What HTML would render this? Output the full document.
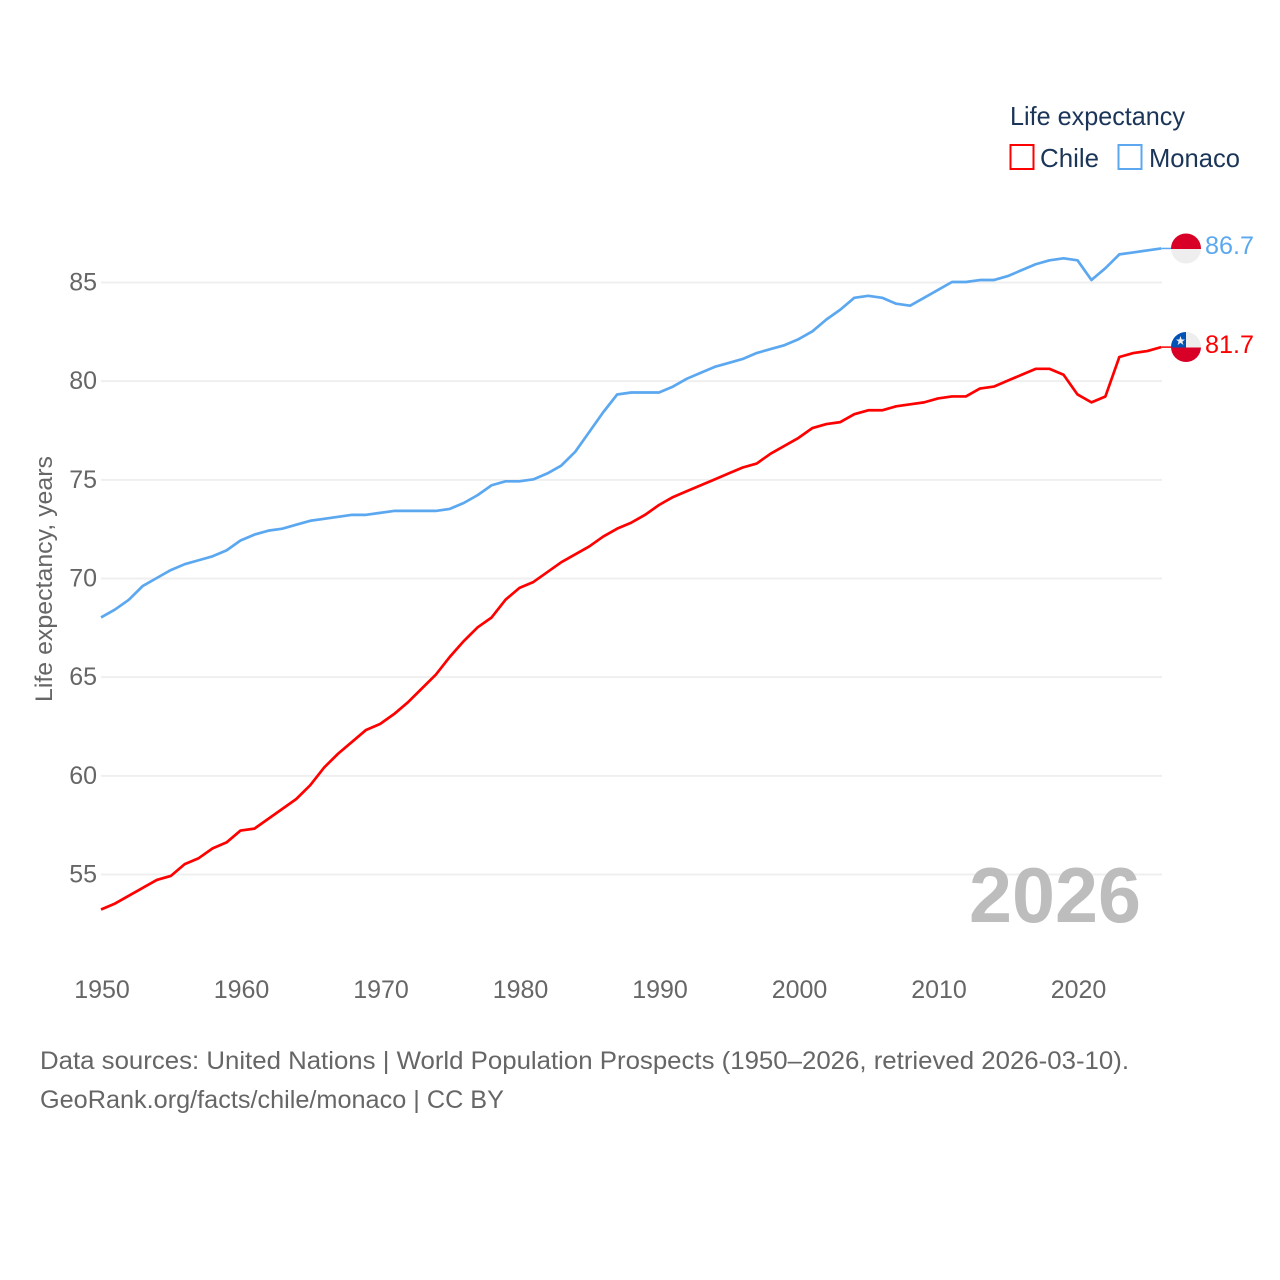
<!DOCTYPE html>
<html lang="en">
<head>
<meta charset="utf-8">
<title>Life expectancy: Chile vs Monaco</title>
<style>
html,body{margin:0;padding:0;background:#fff;width:1280px;height:1280px;overflow:hidden}
svg{display:block}
text{font-family:"Liberation Sans",sans-serif}
</style>
</head>
<body>
<svg id="chart" xmlns="http://www.w3.org/2000/svg" width="1280" height="1280" viewBox="0 0 1280 1280">
  <defs>
    <clipPath id="flag-clip-monaco"><circle cx="1186" cy="248.5" r="15"/></clipPath>
    <clipPath id="flag-clip-chile"><circle cx="1186" cy="347" r="15"/></clipPath>
  </defs>
  <g id="grid"></g>
  <g id="yticks"></g>
  <g id="xticks"></g>
  <text transform="translate(52,579) rotate(-90)" text-anchor="middle" font-size="24" fill="#666666" textLength="246" lengthAdjust="spacingAndGlyphs">Life expectancy, years</text>
  <text x="969" y="922" font-size="78" font-weight="700" fill="#bdbdbd" textLength="172" lengthAdjust="spacingAndGlyphs">2026</text>
  <g id="series"></g>

  <g clip-path="url(#flag-clip-monaco)">
    <rect x="1171" y="233" width="30" height="16" fill="#d80027"/>
    <rect x="1171" y="249" width="30" height="15" fill="#eeeeee"/>
  </g>
  <g clip-path="url(#flag-clip-chile)">
    <rect x="1171" y="332" width="30" height="16" fill="#eeeeee"/>
    <rect x="1171" y="332" width="15" height="16" fill="#0052b4"/>
    <rect x="1171" y="347.5" width="30" height="15" fill="#d80027"/>
    <polygon points="1180.5,336 1181.7,339.5 1185,339.5 1182.4,341.6 1183.4,345 1180.5,342.9 1177.6,345 1178.6,341.6 1176,339.5 1179.3,339.5" fill="#eeeeee"/>
  </g>
  <text id="monaco-end" x="1205" y="254" font-size="25" fill="#5ba8f0" textLength="49" lengthAdjust="spacingAndGlyphs"></text>
  <text id="chile-end" x="1205" y="353" font-size="25" fill="#ff0000" textLength="49" lengthAdjust="spacingAndGlyphs"></text>

  <g>
    <text x="1010" y="125" font-size="26" fill="#1b3558" textLength="175" lengthAdjust="spacingAndGlyphs">Life expectancy</text>
    <g>
      <rect x="1010.5" y="145" width="23" height="24" fill="#fff" stroke="#ff0000" stroke-width="2"/>
      <text x="1040" y="167" font-size="26" fill="#1b3558" textLength="59" lengthAdjust="spacingAndGlyphs">Chile</text>
    </g>
    <g>
      <rect x="1118.5" y="145" width="23" height="24" fill="#fff" stroke="#5ba8f0" stroke-width="2"/>
      <text x="1149" y="167" font-size="26" fill="#1b3558" textLength="91" lengthAdjust="spacingAndGlyphs">Monaco</text>
    </g>
  </g>

  <text x="40" y="1069" font-size="25" fill="#666666" textLength="1089" lengthAdjust="spacingAndGlyphs">Data sources: United Nations | World Population Prospects (1950–2026, retrieved 2026-03-10).</text>
  <text x="40" y="1108" font-size="25" fill="#666666" textLength="464" lengthAdjust="spacingAndGlyphs">GeoRank.org/facts/chile/monaco | CC BY</text>
</svg>
<script>
const startYear = 1950;
const chileValues = [53.2,53.5,53.9,54.3,54.7,54.9,55.5,55.8,56.3,56.6,57.2,57.3,57.8,58.3,58.8,59.5,60.4,61.1,61.7,62.3,62.6,63.1,63.7,64.4,65.1,66.0,66.8,67.5,68.0,68.9,69.5,69.8,70.3,70.8,71.2,71.6,72.1,72.5,72.8,73.2,73.7,74.1,74.4,74.7,75.0,75.3,75.6,75.8,76.3,76.7,77.1,77.6,77.8,77.9,78.3,78.5,78.5,78.7,78.8,78.9,79.1,79.2,79.2,79.6,79.7,80.0,80.3,80.6,80.6,80.3,79.3,78.9,79.2,81.2,81.4,81.5,81.7];
const monacoValues = [68.0,68.4,68.9,69.6,70.0,70.4,70.7,70.9,71.1,71.4,71.9,72.2,72.4,72.5,72.7,72.9,73.0,73.1,73.2,73.2,73.3,73.4,73.4,73.4,73.4,73.5,73.8,74.2,74.7,74.9,74.9,75.0,75.3,75.7,76.4,77.4,78.4,79.3,79.4,79.4,79.4,79.7,80.1,80.4,80.7,80.9,81.1,81.4,81.6,81.8,82.1,82.5,83.1,83.6,84.2,84.3,84.2,83.9,83.8,84.2,84.6,85.0,85.0,85.1,85.1,85.3,85.6,85.9,86.1,86.2,86.1,85.1,85.7,86.4,86.5,86.6,86.7];
const yTickValues = [55,60,65,70,75,80,85];
const xTickYears = [1950,1960,1970,1980,1990,2000,2010,2020];

const NS = 'http://www.w3.org/2000/svg';
const xScale = function (year) { return 101 + (year - 1950) * 13.95; };
const yScale = function (v) { return 874 - (v - 55) * (874 - 282) / 30; };
const gridGroup = document.getElementById('grid');
const yTickGroup = document.getElementById('yticks');
const xTickGroup = document.getElementById('xticks');
const seriesGroup = document.getElementById('series');

yTickValues.forEach(function (v) {
  const line = document.createElementNS(NS, 'line');
  
  
  line.setAttribute('x1', 101);
  line.setAttribute('x2', 1162);
  line.setAttribute('y1', yScale(v) + 0.5);
  line.setAttribute('y2', yScale(v) + 0.5);
  line.setAttribute('stroke', '#efefef');
  line.setAttribute('stroke-width', 2);
  gridGroup.appendChild(line);

  const label = document.createElementNS(NS, 'text');
  
  
  label.setAttribute('x', 97);
  label.setAttribute('y', yScale(v) + 8.5);
  label.setAttribute('text-anchor', 'end');
  label.setAttribute('font-size', 25);
  label.setAttribute('fill', '#666666');
  label.textContent = v;
  yTickGroup.appendChild(label);
});

xTickYears.forEach(function (yr) {
  const label = document.createElementNS(NS, 'text');
  
  
  label.setAttribute('x', xScale(yr) + 1);
  label.setAttribute('y', 998);
  label.setAttribute('text-anchor', 'middle');
  label.setAttribute('font-size', 25);
  label.setAttribute('fill', '#666666');
  label.textContent = yr;
  xTickGroup.appendChild(label);
});

function pathFor(values) {
  return values.map(function (v, i) {
    return (i ? 'L' : 'M') + xScale(startYear + i).toFixed(2) + ' ' + yScale(v).toFixed(2);
  }).join(' ');
}

function stubFor(values) {
  const lastY = yScale(values[values.length - 1]).toFixed(2);
  const lastX = xScale(startYear + values.length - 1).toFixed(2);
  return 'M' + lastX + ' ' + lastY + ' L1171 ' + lastY;
}

const chilePath = document.createElementNS(NS, 'path');


chilePath.setAttribute('d', pathFor(chileValues));
chilePath.setAttribute('fill', 'none');
chilePath.setAttribute('stroke', '#ff0000');
chilePath.setAttribute('stroke-width', 2.7);
chilePath.setAttribute('stroke-linejoin', 'round');
seriesGroup.appendChild(chilePath);

const chileStub = document.createElementNS(NS, 'path');


chileStub.setAttribute('d', stubFor(chileValues));
chileStub.setAttribute('fill', 'none');
chileStub.setAttribute('stroke', '#ff0000');
chileStub.setAttribute('stroke-width', 1.5);
seriesGroup.appendChild(chileStub);

const monacoPath = document.createElementNS(NS, 'path');


monacoPath.setAttribute('d', pathFor(monacoValues));
monacoPath.setAttribute('fill', 'none');
monacoPath.setAttribute('stroke', '#5ba8f0');
monacoPath.setAttribute('stroke-width', 2.7);
monacoPath.setAttribute('stroke-linejoin', 'round');
seriesGroup.appendChild(monacoPath);

const monacoStub = document.createElementNS(NS, 'path');


monacoStub.setAttribute('d', stubFor(monacoValues));
monacoStub.setAttribute('fill', 'none');
monacoStub.setAttribute('stroke', '#5ba8f0');
monacoStub.setAttribute('stroke-width', 1.5);
seriesGroup.appendChild(monacoStub);

document.getElementById('chile-end').textContent = chileValues[chileValues.length - 1].toFixed(1);
document.getElementById('monaco-end').textContent = monacoValues[monacoValues.length - 1].toFixed(1);
</script>
</body>
</html>
